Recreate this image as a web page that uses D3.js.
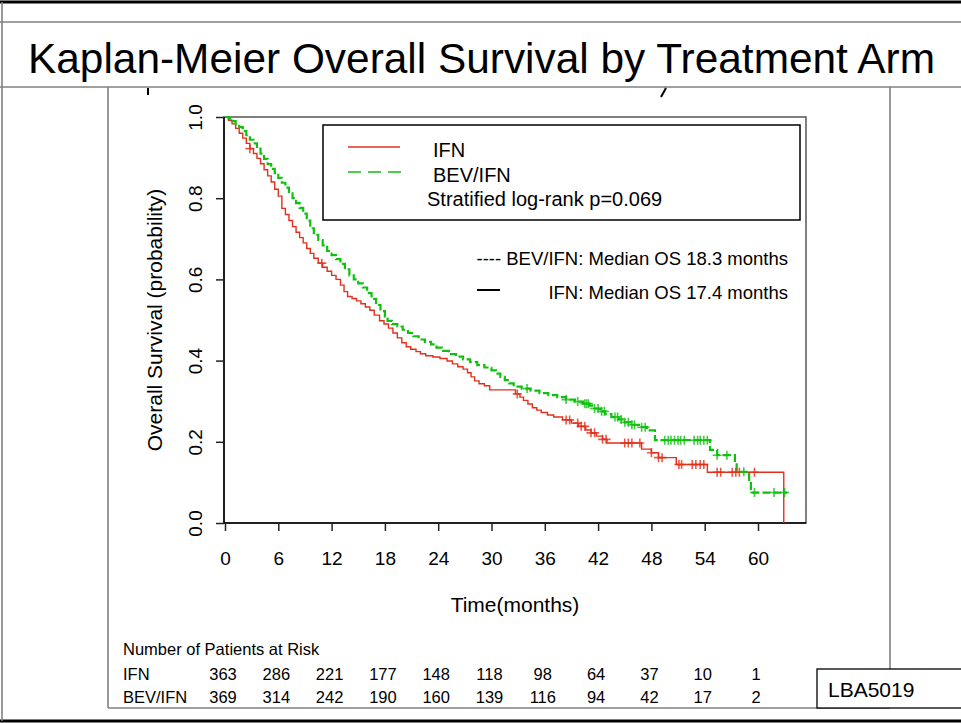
<!DOCTYPE html>
<html>
<head>
<meta charset="utf-8">
<script src="https://cdn.jsdelivr.net/npm/d3@7"></script>
<style>
  html, body { margin: 0; padding: 0; background: #fff; }
  svg { display: block; font-family: "Liberation Sans", Arial, Helvetica, sans-serif; }
</style>
</head>
<body>
<svg id="chart" width="961" height="723"></svg>
<script>
// ---- data ---------------------------------------------------------------
const timeTicks = [0, 6, 12, 18, 24, 30, 36, 42, 48, 54, 60];
const survTicks = [0.0, 0.2, 0.4, 0.6, 0.8, 1.0];
const survTickLabels = ["0.0", "0.2", "0.4", "0.6", "0.8", "1.0"];

const armNames = ["IFN", "BEV/IFN"];

// Kaplan-Meier step points [months, survival probability]
const ifnSteps = [
  [0, 1.0], [0.4, 0.992], [0.8, 0.983], [1.2, 0.972], [1.6, 0.96], [2.0, 0.948],
  [2.4, 0.935], [2.8, 0.922], [3.2, 0.91], [3.6, 0.898], [4.0, 0.885], [4.4, 0.87],
  [4.8, 0.855], [5.2, 0.84], [5.6, 0.822], [6.0, 0.805], [6.4, 0.775], [6.8, 0.76],
  [7.2, 0.745], [7.6, 0.73], [8.0, 0.716], [8.4, 0.703], [8.8, 0.69], [9.2, 0.676],
  [9.6, 0.664], [10.0, 0.652], [10.5, 0.64], [11.0, 0.63], [11.5, 0.62], [12.0, 0.61],
  [12.5, 0.6], [13.0, 0.586], [13.4, 0.57], [13.8, 0.558], [14.3, 0.553], [14.8, 0.547],
  [15.3, 0.54], [15.8, 0.532], [16.3, 0.524], [16.8, 0.512], [17.4, 0.498], [17.9, 0.49],
  [18.4, 0.48], [18.9, 0.468], [19.4, 0.456], [19.9, 0.444], [20.4, 0.434], [20.9, 0.428],
  [21.5, 0.422], [22.0, 0.417], [22.6, 0.412], [23.4, 0.409], [24.2, 0.405], [25.0, 0.399],
  [25.6, 0.392], [26.2, 0.385], [26.8, 0.379], [27.3, 0.37], [27.7, 0.36], [28.1, 0.35],
  [28.6, 0.343], [29.2, 0.338], [29.8, 0.328], [32.7, 0.318], [33.2, 0.31], [33.6, 0.302],
  [34.1, 0.293], [34.6, 0.284], [35.1, 0.278], [35.6, 0.272], [36.3, 0.266], [37.0, 0.261],
  [38.0, 0.254], [39.0, 0.246], [39.8, 0.238], [40.6, 0.229], [41.2, 0.222], [41.8, 0.214],
  [42.5, 0.206], [43.0, 0.197], [46.9, 0.182], [48.0, 0.173], [48.8, 0.161], [50.8, 0.144],
  [54.3, 0.125], [62.9, 0.0]
];

const bevSteps = [
  [0, 1.0], [0.4, 0.996], [0.8, 0.99], [1.2, 0.982], [1.6, 0.975], [2.0, 0.965],
  [2.4, 0.955], [2.8, 0.944], [3.2, 0.935], [3.6, 0.922], [4.0, 0.91], [4.4, 0.897],
  [4.8, 0.884], [5.2, 0.872], [5.6, 0.862], [6.0, 0.85], [6.4, 0.838], [6.8, 0.826],
  [7.2, 0.812], [7.6, 0.8], [8.0, 0.788], [8.4, 0.776], [8.8, 0.762], [9.2, 0.745],
  [9.6, 0.726], [10.0, 0.71], [10.5, 0.697], [11.0, 0.684], [11.5, 0.67], [12.0, 0.66],
  [12.5, 0.65], [13.0, 0.638], [13.5, 0.625], [14.0, 0.61], [14.5, 0.6], [15.0, 0.59],
  [15.5, 0.58], [16.0, 0.566], [16.5, 0.552], [17.0, 0.537], [17.5, 0.522], [18.0, 0.508],
  [18.3, 0.498], [18.8, 0.49], [19.4, 0.484], [20.0, 0.476], [20.6, 0.468], [21.2, 0.46],
  [21.8, 0.452], [22.5, 0.446], [23.2, 0.44], [23.8, 0.432], [24.4, 0.424], [25.2, 0.416],
  [26.0, 0.41], [26.8, 0.403], [27.6, 0.396], [28.4, 0.389], [29.2, 0.383], [30.0, 0.376],
  [30.5, 0.368], [31.0, 0.36], [31.5, 0.352], [32.0, 0.344], [32.5, 0.336], [33.4, 0.331],
  [34.4, 0.326], [35.4, 0.32], [36.4, 0.315], [37.4, 0.31], [38.4, 0.304], [39.4, 0.299],
  [40.3, 0.294], [41.0, 0.289], [41.6, 0.282], [42.2, 0.275], [42.8, 0.268], [43.5, 0.261],
  [44.3, 0.255], [45.0, 0.248], [45.8, 0.242], [46.6, 0.236], [47.5, 0.228], [48.4, 0.204],
  [54.6, 0.18], [55.4, 0.167], [57.4, 0.147], [57.6, 0.126], [59.0, 0.098], [59.2, 0.075],
  [63.3, 0.075]
];

// censoring times (months)
const ifnCensored = [
  2.8, 10.9, 32.9, 38.4, 38.8, 39.7, 40.1, 40.5, 41.2, 41.6, 42.5, 42.9,
  45.0, 45.4, 45.8, 46.7, 48.0, 48.8, 49.2, 51.1, 51.4, 52.6, 53.0, 53.5, 53.9,
  55.4, 55.8, 57.1, 57.5, 57.9, 59.6
];
const bevCensored = [
  34.0, 38.4, 39.7, 40.5, 40.7, 40.9, 41.6, 42.0, 42.4, 42.7, 43.9, 44.2, 44.6,
  45.0, 45.4, 45.8, 46.1, 46.9, 47.3, 49.5, 49.9, 50.2, 50.6, 51.0, 51.3, 51.7,
  52.8, 53.2, 53.5, 53.9, 54.3, 55.4, 56.5, 58.4, 59.6, 61.8, 63.0
];

// number at risk at each time tick
const atRiskIFN = [363, 286, 221, 177, 148, 118, 98, 64, 37, 10, 1];
const atRiskBEV = [369, 314, 242, 190, 160, 139, 116, 94, 42, 17, 2];

// ---- drawing -------------------------------------------------------------
const svg = d3.select("#chart");
const W = 961, H = 723;
const red = "#e2301c", green = "#10c010", frameGrey = "#808080";

// slide frame
const frame = svg.append("g").attr("fill", "none");
frame.append("line").attr("x1", 0).attr("x2", W).attr("y1", 2).attr("y2", 2)
  .attr("stroke", "#000").attr("stroke-width", 3);
frame.append("line").attr("x1", 0).attr("x2", W).attr("y1", 721).attr("y2", 721)
  .attr("stroke", "#000").attr("stroke-width", 3);
[[0, W, 22, 22], [0, W, 87, 87], [2, 2, 2, 721], [108, 108, 87, 708],
 [890, 890, 87, 669], [108, 890, 708, 708]].forEach(([x1, x2, y1, y2]) => {
  frame.append("line").attr("x1", x1).attr("x2", x2).attr("y1", y1).attr("y2", y2)
    .attr("stroke", frameGrey).attr("stroke-width", 1.6);
});
// descender strokes peeking below the title band
frame.append("path").attr("d", "M148,88 V95").attr("stroke", "#000").attr("stroke-width", 2);
frame.append("path").attr("d", "M666,88 L661,97").attr("stroke", "#000").attr("stroke-width", 2);

// title
svg.append("text")
  .attr("x", 28).attr("y", 73)
  .attr("font-size", 42.4)
  .attr("fill", "#000")
  .text("Kaplan-Meier Overall Survival by Treatment Arm");

// scales
const x = d3.scaleLinear().domain([0, 60]).range([225, 758]);
const y = d3.scaleLinear().domain([0, 1]).range([523, 117]);
const plotRight = 806;

// plot box
svg.append("rect")
  .attr("x", 224).attr("y", y(1)).attr("width", plotRight - 224).attr("height", y(0) - y(1))
  .attr("fill", "none").attr("stroke", "#555").attr("stroke-width", 1.5);

// axes
const xAxis = svg.append("g")
  .attr("transform", `translate(0,${y(0)})`)
  .call(d3.axisBottom(x).tickValues(timeTicks).tickSizeInner(8).tickSizeOuter(0).tickPadding(21));
xAxis.select(".domain").attr("d", `M224,0H${plotRight}`).attr("stroke", "#000").attr("stroke-width", 1.5);
xAxis.selectAll(".tick line").attr("stroke", "#222").attr("stroke-width", 1.5);
xAxis.selectAll(".tick text").attr("font-size", 19).attr("fill", "#000")
  .attr("font-family", "Liberation Sans, Arial, sans-serif");

const yAxis = svg.append("g")
  .attr("transform", "translate(224,0)")
  .call(d3.axisLeft(y).tickValues(survTicks).tickSizeInner(8).tickSizeOuter(0)
    .tickFormat((d, i) => survTickLabels[i]));
yAxis.select(".domain").attr("d", `M0,${y(0)}V${y(1)}`).attr("stroke", "#000").attr("stroke-width", 1.5);
yAxis.selectAll(".tick line").attr("stroke", "#222").attr("stroke-width", 1.5);
yAxis.selectAll(".tick text")
  .attr("font-size", 19).attr("fill", "#000")
  .attr("font-family", "Liberation Sans, Arial, sans-serif")
  .attr("transform", "rotate(-90)")
  .attr("x", 0).attr("y", -22).attr("dy", 0)
  .attr("text-anchor", "middle");

// axis titles
svg.append("text")
  .attr("x", (224 + plotRight) / 2).attr("y", 612)
  .attr("text-anchor", "middle").attr("font-size", 21)
  .text("Time(months)");
svg.append("text")
  .attr("transform", `translate(162,${(y(0) + y(1)) / 2}) rotate(-90)`)
  .attr("text-anchor", "middle").attr("font-size", 21)
  .text("Overall Survival (probability)");

// survival curves
const stepLine = d3.line().x(d => x(d[0])).y(d => y(d[1])).curve(d3.curveStepAfter);
const clip = svg.append("clipPath").attr("id", "plotClip")
  .append("rect").attr("x", 224).attr("y", y(1) - 6).attr("width", plotRight - 224).attr("height", y(0) - y(1) + 6);

const curves = svg.append("g").attr("clip-path", "url(#plotClip)");
curves.append("path").datum(ifnSteps)
  .attr("d", stepLine).attr("fill", "none")
  .attr("stroke", red).attr("stroke-width", 1.4);
curves.append("path").datum(bevSteps)
  .attr("d", stepLine).attr("fill", "none")
  .attr("stroke", green).attr("stroke-width", 2.2)
  .attr("stroke-dasharray", "8,3");

const stepBisect = d3.bisector(d => d[0]).right;
function survivalAt(steps, t) {
  const i = Math.max(0, stepBisect(steps, t) - 1);
  return steps[i][1];
}
function censorMarks(times, steps, colour) {
  curves.append("g").selectAll("path").data(times).join("path")
    .attr("d", t => {
      const cx = x(t), cy = y(survivalAt(steps, t));
      return `M${cx - 4.5},${cy}H${cx + 4.5}M${cx},${cy - 4.5}V${cy + 4.5}`;
    })
    .attr("fill", "none").attr("stroke", colour)
    .attr("stroke-width", 1.6).attr("stroke-opacity", 0.8);
}
censorMarks(ifnCensored, ifnSteps, red);
censorMarks(bevCensored, bevSteps, green);

// legend box
const legend = svg.append("g");
legend.append("rect")
  .attr("x", 323).attr("y", 125).attr("width", 477).attr("height", 95)
  .attr("fill", "#fff").attr("stroke", "#000").attr("stroke-width", 1.5);
legend.append("line").attr("x1", 348).attr("x2", 400).attr("y1", 147).attr("y2", 147)
  .attr("stroke", red).attr("stroke-width", 1.5);
legend.append("line").attr("x1", 348).attr("x2", 401).attr("y1", 172).attr("y2", 172)
  .attr("stroke", green).attr("stroke-width", 1.5).attr("stroke-dasharray", "13,7");
legend.append("text").attr("x", 433).attr("y", 157).attr("font-size", 20).text(armNames[0]);
legend.append("text").attr("x", 433).attr("y", 182).attr("font-size", 20).text(armNames[1]);
legend.append("text").attr("x", 427).attr("y", 206).attr("font-size", 20)
  .text("Stratified log-rank p=0.069");

// median survival notes
svg.append("text").attr("x", 788).attr("y", 265).attr("text-anchor", "end")
  .attr("font-size", 18.5).text("---- BEV/IFN: Median OS 18.3 months");
svg.append("line").attr("x1", 477).attr("x2", 500).attr("y1", 290).attr("y2", 290)
  .attr("stroke", "#000").attr("stroke-width", 2);
svg.append("text").attr("x", 788).attr("y", 299).attr("text-anchor", "end")
  .attr("font-size", 18.5).text("IFN: Median OS 17.4 months");

// number at risk table
const risk = svg.append("g").attr("font-size", 16.5);
risk.append("text").attr("x", 123).attr("y", 655).text("Number of Patients at Risk");
[[armNames[0], atRiskIFN, 680], [armNames[1], atRiskBEV, 703]].forEach(([name, vals, by]) => {
  risk.append("text").attr("x", 123).attr("y", by).text(name);
  risk.append("g").selectAll("text").data(vals).join("text")
    .attr("x", (d, i) => x(timeTicks[i]) - 2).attr("y", by)
    .attr("text-anchor", "middle").text(d => d);
});

// abstract id box
svg.append("rect").attr("x", 817).attr("y", 669).attr("width", 150).attr("height", 39)
  .attr("fill", "#fff").attr("stroke", "#000").attr("stroke-width", 1.3);
svg.append("text").attr("x", 828).attr("y", 697).attr("font-size", 21).text("LBA5019");
</script>
</body>
</html>
